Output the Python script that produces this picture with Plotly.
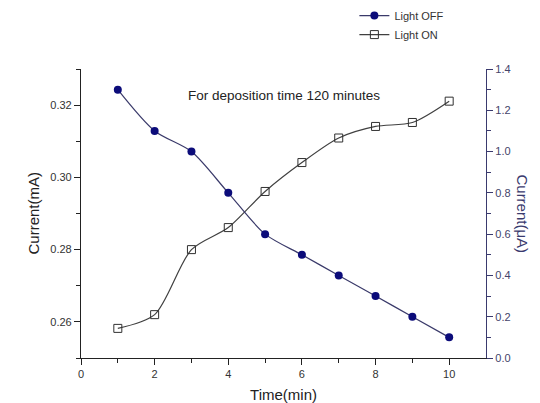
import plotly.graph_objects as go

time_min = [1, 2, 3, 4, 5, 6, 7, 8, 9, 10]
light_on_mA = [0.2582, 0.2620, 0.2800, 0.2861, 0.2961, 0.3041, 0.3109, 0.3141, 0.3152, 0.3211]
light_off_uA = [1.30, 1.10, 1.00, 0.80, 0.60, 0.50, 0.40, 0.30, 0.20, 0.10]

NAVY = "#0c0c7a"
NAVY_AX = "#3a3a6e"
FONT = "Liberation Sans, Arial, sans-serif"

fig = go.Figure()
fig.add_trace(go.Scatter(
    x=time_min, y=light_off_uA, name="Light OFF", yaxis="y2",
    mode="lines+markers", line=dict(color="#3a3a6a", width=1.2, shape="spline", smoothing=0.8),
    marker=dict(symbol="circle", size=8, color=NAVY, line=dict(width=0)),
))
fig.add_trace(go.Scatter(
    x=time_min, y=light_on_mA, name="Light ON", yaxis="y",
    mode="lines+markers", line=dict(color="#404040", width=1.2, shape="spline", smoothing=0.8),
    marker=dict(symbol="square-open", size=8, color="#303030", line=dict(width=1)),
))

fig.update_layout(
    width=540, height=403,
    margin=dict(l=81, r=54, t=69, b=45, autoexpand=False),
    paper_bgcolor="white", plot_bgcolor="white",
    font=dict(family=FONT, size=11, color="#333333"),
    showlegend=True,
    legend=dict(x=0.675, y=1.235, xanchor="left", yanchor="top",
                bgcolor="rgba(0,0,0,0)", font=dict(size=11, color="#333333"),
                tracegroupgap=0, itemwidth=30),
    xaxis=dict(range=[0, 11], tickmode="array", tickvals=[0, 2, 4, 6, 8, 10],
               ticks="outside", ticklen=6, tickcolor="#222", showline=True,
               linecolor="#222", linewidth=1.2, showgrid=False, zeroline=False,
               automargin=False,
               minor=dict(tickvals=[1, 3, 5, 7, 9], ticks="outside", ticklen=4, tickcolor="#222"),
               title=dict(text="Time(min)", font=dict(size=15, color="#222")),
               tickfont=dict(size=11, color="#333")),
    xaxis2=dict(range=[0, 11], overlaying="x", side="top", showticklabels=False,
                tickmode="array", tickvals=[1, 2, 3, 4, 5, 6, 7, 8, 9, 10],
                ticks="inside", ticklen=5, tickcolor="#222", showline=True,
                linecolor="#222", linewidth=1.2, showgrid=False, zeroline=False,
                automargin=False),
    yaxis=dict(range=[0.25, 0.33], tickmode="array", tickvals=[0.26, 0.28, 0.30, 0.32],
               ticktext=["0.26", "0.28", "0.30", "0.32"],
               ticks="outside", ticklen=6, tickcolor="#222", showline=True,
               linecolor="#222", linewidth=1.2, showgrid=False, zeroline=False,
               automargin=False,
               minor=dict(tickvals=[0.25, 0.27, 0.29, 0.31, 0.33], ticks="outside", ticklen=4, tickcolor="#222"),
               tickfont=dict(size=11, color="#333")),
    yaxis2=dict(range=[0, 1.4], overlaying="y", side="right", tickmode="array",
                tickvals=[0, 0.2, 0.4, 0.6, 0.8, 1.0, 1.2, 1.4],
                ticktext=["0.0", "0.2", "0.4", "0.6", "0.8", "1.0", "1.2", "1.4"],
                ticks="outside", ticklen=6, tickcolor=NAVY_AX, showline=True,
                linecolor=NAVY_AX, linewidth=1.2, showgrid=False, zeroline=False,
                automargin=False,
                minor=dict(tickvals=[0.1, 0.3, 0.5, 0.7, 0.9, 1.1, 1.3], ticks="outside", ticklen=4, tickcolor=NAVY_AX),
                tickfont=dict(size=11, color="#44446a")),
    annotations=[
        dict(text="For deposition time 120 minutes", x=0.5, y=0.94,
             xref="paper", yref="paper", showarrow=False,
             font=dict(size=13.5, color="#222")),
        dict(text="Current(mA)", x=-0.1185, y=0.5, xref="paper", yref="paper",
             showarrow=False, textangle=-90, xanchor="center", yanchor="middle",
             font=dict(size=15, color="#222")),
        dict(text="Current(μA)", x=1.089, y=0.5, xref="paper", yref="paper",
             showarrow=False, textangle=90, xanchor="center", yanchor="middle",
             font=dict(size=15, color=NAVY_AX)),
    ],
)

fig.write_html("out.html", config={"displayModeBar": False},
               post_script="document.body.style.margin='0';document.body.style.overflow='hidden';")
